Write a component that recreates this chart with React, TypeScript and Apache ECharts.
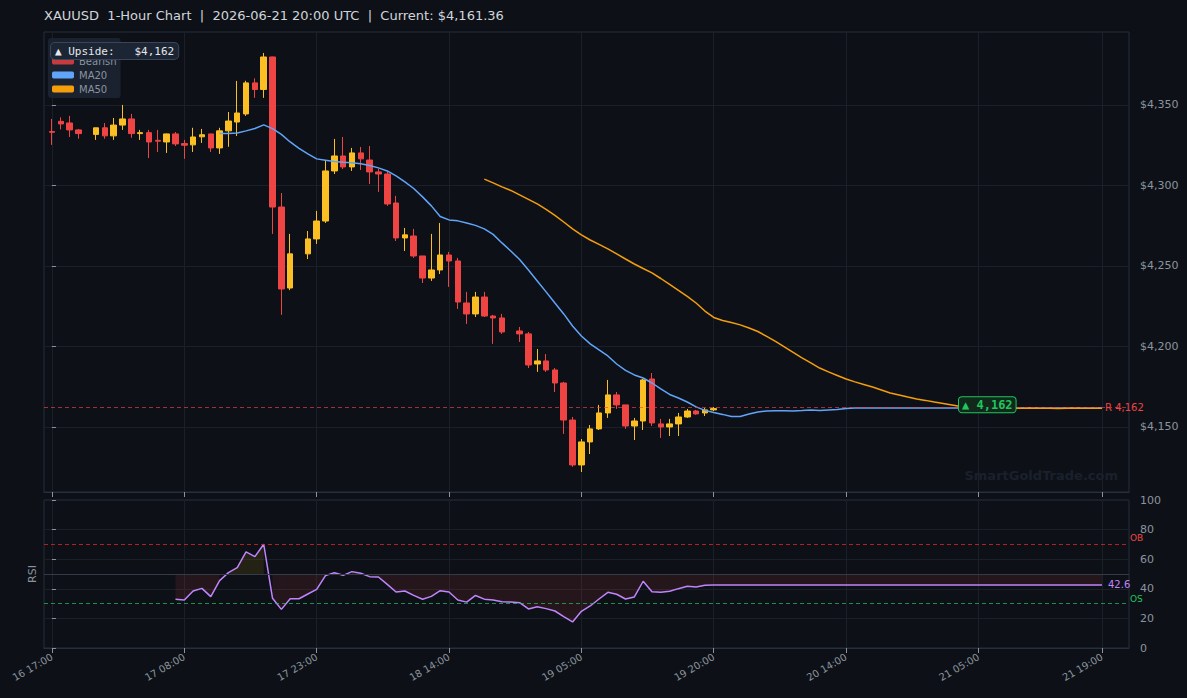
import { useEffect, useRef } from 'react';
import * as echarts from 'echarts';

const TITLE = 'XAUUSD  1-Hour Chart  |  2026-06-21 20:00 UTC  |  Current: $4,161.36';

const TICK_INDEX = [0, 15, 30, 45, 60, 75, 90, 105, 119];
const TICK_LABELS = ['16 17:00', '17 08:00', '17 23:00', '18 14:00', '19 05:00', '19 20:00', '20 14:00', '21 05:00', '21 19:00'];
const PRICE_TICKS = [4150, 4200, 4250, 4300, 4350];
const RSI_TICKS = [0, 20, 40, 60, 80, 100];

const X_MIN = -0.9;
const X_MAX = 122.06;
const Y_MIN = 4109.6;
const Y_MAX = 4395.3;

// candles, index 0..75 (null = no candle)
const OPEN = [4333.5, 4339.8, 4338.8, 4334.5, null, 4331.7, 4335.8, 4330.8, 4337.5, 4341.3, 4332.2, 4332.8, 4328.0, 4327.0, 4332.0, 4326.0, 4325.2, 4330.2, 4332.0, 4323.3,
  4333.9, 4339.4, 4344.4, 4363.7, 4359.6, 4379.8, 4286.6, 4236.3, null, 4257.5, 4266.8, 4277.9, 4309.0, 4318.3, 4311.5, 4320.2, 4315.8, 4308.4, 4307.1, 4289.1,
  4267.4, 4268.6, 4256.2, 4242.5, 4247.5, 4256.8, 4253.1, 4227.0, 4220.2, 4230.7, 4218.9, 4217.7, null, 4209.6, 4207.8, 4189.1, 4191.0, 4185.4, 4177.3, 4154.3,
  4126.4, 4140.7, 4148.8, 4158.7, 4169.9, 4163.7, 4150.6, 4153.7, 4179.8, 4151.9, 4150.0, 4151.9, 4156.2, 4159.9, 4158.7, 4160.6];
const CLOSE = [4333.0, 4338.2, 4334.5, 4332.2, null, 4335.8, 4330.8, 4337.5, 4341.3, 4332.2, 4332.8, 4327.0, 4327.5, 4332.0, 4325.8, 4325.0, 4330.1, 4331.5, 4323.3, 4333.9,
  4340.0, 4345.0, 4363.7, 4359.6, 4379.8, 4286.6, 4235.7, 4257.5, null, 4266.8, 4277.9, 4309.0, 4318.3, 4311.5, 4320.2, 4316.5, 4308.4, 4307.1, 4288.5, 4267.4,
  4269.3, 4256.2, 4242.5, 4247.5, 4256.8, 4253.1, 4227.6, 4220.2, 4230.7, 4218.9, 4217.7, 4209.0, null, 4207.8, 4188.5, 4191.0, 4185.4, 4177.3, 4154.3, 4126.4,
  4140.7, 4148.8, 4158.7, 4169.9, 4163.7, 4150.6, 4153.7, 4179.2, 4152.5, 4150.0, 4151.9, 4156.2, 4159.9, 4158.1, 4160.6, 4161.4];
const LOW = [4325.2, 4334.8, 4330.1, 4329.0, null, 4328.3, 4329.0, 4328.3, 4334.5, 4329.6, 4328.3, 4317.0, 4320.8, 4320.2, 4324.5, 4316.5, 4320.8, 4326.4, 4320.8, 4319.6,
  4324.0, 4330.7, 4343.2, 4354.4, 4354.4, 4269.9, 4219.6, 4235.0, null, 4254.3, 4263.7, 4276.7, 4307.1, 4310.2, 4309.0, 4309.6, 4300.9, 4296.0, 4287.3, 4265.5,
  4259.3, 4255.0, 4239.4, 4240.7, 4245.0, 4237.0, 4223.3, 4214.0, 4218.3, 4218.3, 4201.6, 4207.8, null, 4202.8, 4186.6, 4184.2, 4184.2, 4171.7, 4145.7, 4125.2,
  4122.0, 4133.2, 4148.1, 4155.6, 4161.2, 4148.8, 4141.9, 4148.1, 4150.6, 4143.2, 4144.4, 4144.4, 4155.6, 4157.5, 4156.8, 4159.9];
const HIGH = [4341.3, 4342.3, 4343.2, 4335.1, null, 4335.8, 4338.8, 4341.9, 4350.0, 4344.4, 4334.5, 4334.5, 4334.5, 4332.2, 4333.2, 4328.3, 4335.8, 4335.1, 4332.0, 4335.8,
  4345.6, 4364.9, 4365.0, 4366.5, 4382.3, 4380.0, 4295.3, 4269.9, null, 4271.7, 4284.2, 4315.2, 4328.9, 4330.1, 4323.3, 4323.9, 4324.5, 4310.2, 4309.0, 4293.5,
  4273.6, 4273.0, 4256.2, 4269.9, 4276.7, 4258.7, 4255.0, 4233.9, 4233.9, 4233.9, 4219.6, 4220.2, null, 4212.1, 4209.0, 4198.4, 4195.3, 4186.6, 4178.0, 4156.2,
  4142.5, 4151.2, 4163.7, 4179.2, 4171.7, 4163.7, 4155.6, 4179.8, 4183.5, 4155.0, 4155.0, 4158.7, 4161.2, 4160.6, 4161.8, 4162.4];

// MA20 from index 19 to 119
const MA20_START = 19;
const MA20 = [4332.2, 4332.3, 4332.6, 4333.9, 4335.4, 4337.6, 4335.3, 4331.7, 4327.0, 4323.0, 4319.6, 4316.5, 4315.7, 4314.9, 4314.4, 4314.1, 4313.5, 4312.4, 4310.9, 4309.0,
  4305.9, 4302.2, 4298.1, 4292.9, 4287.3, 4280.7, 4278.6, 4278.0, 4276.7, 4275.2, 4273.0, 4269.6, 4264.3, 4259.3, 4254.0, 4247.5, 4240.7, 4233.9, 4227.0, 4220.2,
  4212.7, 4206.5, 4201.6, 4197.8, 4194.1, 4189.1, 4185.1, 4182.3, 4180.4, 4177.3, 4173.6, 4170.2, 4168.0, 4165.5, 4162.5, 4160.3, 4159.0, 4157.8, 4156.5, 4156.5,
  4158.1, 4159.3, 4159.9, 4160.1, 4160.1, 4159.9, 4160.2, 4160.6, 4160.2, 4160.6, 4160.9, 4161.5, 4161.8, 4161.8, 4161.8, 4161.8, 4161.8, 4161.8, 4161.8, 4161.8,
  4161.8, 4161.8, 4161.8, 4161.8, 4161.8, 4161.8, 4161.8, 4161.8, 4161.8, 4161.8, 4161.8, 4161.8, 4161.8, 4161.8, 4161.8, 4161.8, 4161.8, 4161.8, 4161.8, 4161.8,
  4161.8];

// MA50 from index 49 to 119
const MA50_START = 49;
const MA50 = [4303.9, 4301.6, 4299.1, 4296.9, 4294.1, 4291.3, 4288.5, 4285.1, 4281.4, 4277.3, 4273.0, 4269.3, 4266.1, 4263.4, 4260.6, 4257.5, 4254.3, 4251.2, 4248.4, 4245.7,
  4242.2, 4238.5, 4234.8, 4231.1, 4227.0, 4222.0, 4218.0, 4216.1, 4214.9, 4213.4, 4211.5, 4209.3, 4206.2, 4203.1, 4199.7, 4196.3, 4192.9, 4189.8, 4186.6, 4184.2,
  4182.0, 4179.8, 4178.0, 4176.4, 4174.8, 4173.0, 4171.1, 4169.9, 4168.6, 4167.4, 4166.5, 4165.5, 4164.6, 4163.7, 4162.7, 4162.1, 4161.5, 4161.2, 4161.2, 4161.2,
  4161.6, 4161.6, 4161.7, 4161.6, 4161.6, 4161.5, 4161.6, 4161.7, 4161.6, 4161.6, 4161.6];

// RSI from index 14 to 119
const RSI_START = 14;
const RSI = [32.9, 32.4, 38.5, 40.3, 34.7, 45.5, 50.9, 54.3, 64.9, 61.7, 70.1, 33.6, 26.1, 33.3, 33.3, 36.5, 39.6, 48.9, 50.9, 49.1,
  51.6, 50.5, 48.2, 48.0, 43.0, 37.8, 38.5, 35.6, 32.9, 34.9, 38.7, 37.8, 32.4, 31.0, 35.5, 33.0, 32.4, 31.3, 31.1, 30.6,
  26.4, 27.9, 26.6, 25.0, 21.2, 17.6, 24.8, 28.4, 33.1, 37.6, 36.3, 33.1, 34.5, 45.1, 38.0, 37.6, 38.3, 40.1, 41.7, 41.2,
  42.4, 42.6, 42.6, 42.6, 42.6, 42.6, 42.6, 42.6, 42.6, 42.6, 42.6, 42.6, 42.6, 42.6, 42.6, 42.6, 42.6, 42.6, 42.6, 42.6,
  42.6, 42.6, 42.6, 42.6, 42.6, 42.6, 42.6, 42.6, 42.6, 42.6, 42.6, 42.6, 42.6, 42.6, 42.6, 42.6, 42.6, 42.6, 42.6, 42.6,
  42.6, 42.6, 42.6, 42.6, 42.6, 42.6];

const LEVEL = 4162;
const BADGE_INDEX = 106;
const LAST_INDEX = 119;

const BG = '#0d1117';
const GRID_LINE = '#1a2029';
const FRAME = '#252f3d';
const AXIS_TEXT = '#8b949e';
const BULL = '#fbbf24';
const BEAR = '#ef4444';
const MA20_COLOR = '#60a5fa';
const MA50_COLOR = '#f59e0b';
const RSI_COLOR = '#c084fc';

function tickLabel(v: number): string {
  const k = TICK_INDEX.indexOf(Math.round(v));
  return k >= 0 ? TICK_LABELS[k] : '';
}

export default function App() {
  const ref = useRef<HTMLDivElement>(null);

  useEffect(() => {
    if (!ref.current) return;
    const chart = echarts.init(ref.current, undefined, { renderer: 'svg' });

    const candles: number[][] = [];
    OPEN.forEach((o, i) => {
      if (o == null) return;
      candles.push([i, o as number, CLOSE[i] as number, LOW[i] as number, HIGH[i] as number]);
    });
    const ma20 = MA20.map((v, k) => [MA20_START + k, v]);
    const ma50 = MA50.map((v, k) => [MA50_START + k, v]);
    const rsi = RSI.map((v, k) => [RSI_START + k, v]);
    const rsiUp = RSI.map((v, k) => [RSI_START + k, v >= 50 ? v : null]);
    const rsiDown = RSI.map((v, k) => [RSI_START + k, v < 50 ? v : null]);
    const lastRsi = RSI[RSI.length - 1];

    const xAxisBase = {
      type: 'value',
      min: X_MIN,
      max: X_MAX,
      axisLine: { show: true, lineStyle: { color: FRAME } },
      axisTick: { show: true, customValues: TICK_INDEX, length: 5, lineStyle: { color: AXIS_TEXT } },
      splitLine: { show: true, lineStyle: { color: GRID_LINE, width: 1 } },
    };

    const option: any = {
      backgroundColor: BG,
      animation: false,
      textStyle: { fontFamily: 'DejaVu Sans' },
      title: {
        text: TITLE,
        left: 44,
        top: 9,
        padding: 0,
        textStyle: { color: '#d1d5db', fontSize: 13, fontWeight: 'normal', fontFamily: 'DejaVu Sans' },
      },
      legend: {
        data: ['Bullish', 'Bearish', 'MA20', 'MA50'],
        orient: 'vertical',
        left: 48,
        top: 38,
        icon: 'roundRect',
        itemWidth: 22,
        itemHeight: 7,
        itemGap: 4,
        backgroundColor: '#1a2230',
        borderRadius: 3,
        padding: [4, 4, 4, 4],
        textStyle: { color: AXIS_TEXT, fontSize: 10, fontFamily: 'DejaVu Sans' },
        selectedMode: false,
      },
      grid: [
        { left: 44, right: 58, top: 32, height: 460, show: true, borderColor: FRAME, borderWidth: 1, backgroundColor: 'transparent' },
        { left: 44, right: 58, top: 500, height: 148, show: true, borderColor: FRAME, borderWidth: 1, backgroundColor: 'transparent' },
      ],
      xAxis: [
        { ...xAxisBase, gridIndex: 0, axisLabel: { show: false, customValues: TICK_INDEX } },
        {
          ...xAxisBase,
          gridIndex: 1,
          axisLabel: {
            show: true,
            customValues: TICK_INDEX,
            formatter: tickLabel,
            rotate: 30,
            color: AXIS_TEXT,
            fontSize: 10,
            margin: 8,
          },
        },
      ],
      yAxis: [
        {
          type: 'value',
          gridIndex: 0,
          position: 'right',
          min: Y_MIN,
          max: Y_MAX,
          axisLine: { show: false },
          axisTick: { show: true, customValues: PRICE_TICKS, length: 4, lineStyle: { color: AXIS_TEXT } },
          axisLabel: {
            customValues: PRICE_TICKS,
            formatter: (v: number) => '$' + Math.round(v).toLocaleString('en-US'),
            color: AXIS_TEXT,
            fontSize: 11,
            margin: 11,
          },
          splitLine: { show: true, lineStyle: { color: GRID_LINE } },
        },
        {
          type: 'value',
          gridIndex: 1,
          position: 'right',
          min: 0,
          max: 100,
          axisLine: { show: false },
          axisTick: { show: true, customValues: RSI_TICKS, length: 4, lineStyle: { color: AXIS_TEXT } },
          axisLabel: { customValues: RSI_TICKS, color: AXIS_TEXT, fontSize: 11, margin: 11 },
          splitLine: { show: true, lineStyle: { color: GRID_LINE } },
        },
        {
          type: 'value',
          gridIndex: 1,
          position: 'left',
          min: 0,
          max: 100,
          name: 'RSI',
          nameLocation: 'middle',
          nameGap: 6,
          nameRotate: 90,
          nameTextStyle: { color: AXIS_TEXT, fontSize: 11 },
          axisLine: { show: false },
          axisTick: { show: false },
          axisLabel: { show: false },
          splitLine: { show: false },
        },
      ],
      graphic: [
        {
          type: 'text',
          right: 69,
          top: 469,
          z: 1,
          style: { text: 'SmartGoldTrade.com', fontSize: 13, fontWeight: 'bold', fontFamily: 'DejaVu Sans', fill: '#1a202c' },
        },
        {
          type: 'text',
          left: 50,
          top: 42,
          z: 100,
          style: {
            text: '▲ Upside:   $4,162',
            fontSize: 11,
            fontFamily: 'DejaVu Sans Mono',
            fill: '#e5e7eb',
            backgroundColor: '#1c2533',
            borderColor: '#3a4658',
            borderWidth: 1,
            borderRadius: 4,
            padding: [3, 4, 2, 4],
          },
        },
      ],
      series: [
        { name: 'Bullish', type: 'scatter', data: [], itemStyle: { color: BULL } },
        { name: 'Bearish', type: 'scatter', data: [], itemStyle: { color: BEAR } },
        {
          name: 'Price',
          type: 'candlestick',
          xAxisIndex: 0,
          yAxisIndex: 0,
          data: candles,
          barWidth: 6,
          itemStyle: { color: BULL, color0: BEAR, borderColor: BULL, borderColor0: BEAR, borderWidth: 1 },
          markLine: {
            silent: true,
            symbol: ['none', 'none'],
            label: { show: false },
            lineStyle: { color: 'rgba(239,68,68,0.65)', type: [4, 3], width: 1 },
            data: [{ yAxis: LEVEL }],
          },
          markPoint: {
            silent: true,
            symbol: 'circle',
            symbolSize: 0,
            data: [
              {
                coord: [LAST_INDEX, LEVEL],
                label: { show: true, position: 'right', distance: 3, formatter: 'R 4,162', color: BEAR, fontSize: 10 },
              },
              {
                coord: [BADGE_INDEX, LEVEL],
                label: {
                  show: true,
                  position: 'inside',
                  offset: [0, -3],
                  formatter: '▲ 4,162',
                  color: '#22c55e',
                  fontSize: 12,
                  fontWeight: 'bold',
                  fontFamily: 'DejaVu Sans Mono',
                  backgroundColor: '#10291b',
                  borderColor: '#22c55e',
                  borderWidth: 1,
                  borderRadius: 3,
                  padding: [2, 3, 1, 3],
                },
              },
            ],
          },
          z: 3,
        },
        {
          name: 'MA20',
          type: 'line',
          xAxisIndex: 0,
          yAxisIndex: 0,
          data: ma20,
          showSymbol: false,
          color: MA20_COLOR,
          lineStyle: { color: MA20_COLOR, width: 1.5 },
          z: 4,
        },
        {
          name: 'MA50',
          type: 'line',
          xAxisIndex: 0,
          yAxisIndex: 0,
          data: ma50,
          showSymbol: false,
          color: MA50_COLOR,
          lineStyle: { color: MA50_COLOR, width: 1.5 },
          z: 4,
        },
        {
          name: 'rsiUp',
          type: 'line',
          xAxisIndex: 1,
          yAxisIndex: 1,
          data: rsiUp,
          showSymbol: false,
          lineStyle: { width: 0, opacity: 0 },
          areaStyle: { color: 'rgba(234,179,8,0.15)', origin: 50 },
          connectNulls: false,
          silent: true,
        },
        {
          name: 'rsiDown',
          type: 'line',
          xAxisIndex: 1,
          yAxisIndex: 1,
          data: rsiDown,
          showSymbol: false,
          lineStyle: { width: 0, opacity: 0 },
          areaStyle: { color: 'rgba(239,68,68,0.15)', origin: 50 },
          connectNulls: false,
          silent: true,
        },
        {
          name: 'RSI',
          type: 'line',
          xAxisIndex: 1,
          yAxisIndex: 1,
          data: rsi,
          showSymbol: false,
          lineStyle: { color: RSI_COLOR, width: 1.5 },
          color: RSI_COLOR,
          z: 4,
          markLine: {
            silent: true,
            symbol: ['none', 'none'],
            label: { show: false },
            data: [
              { yAxis: 70, lineStyle: { color: 'rgba(220,38,38,0.8)', type: [4, 3], width: 1 } },
              { yAxis: 30, lineStyle: { color: 'rgba(34,197,94,0.7)', type: [4, 3], width: 1 } },
              { yAxis: 50, lineStyle: { color: '#343b47', type: 'solid', width: 1 } },
            ],
          },
          markPoint: {
            silent: true,
            symbol: 'circle',
            symbolSize: 0,
            data: [
              { coord: [LAST_INDEX, lastRsi], label: { show: true, position: 'right', distance: 6, formatter: String(lastRsi), color: RSI_COLOR, fontSize: 10 } },
              { coord: [X_MAX, 70], label: { show: true, position: 'right', distance: 1, offset: [0, -6], formatter: 'OB', color: '#ef4444', fontSize: 9 } },
              { coord: [X_MAX, 30], label: { show: true, position: 'right', distance: 1, offset: [0, -5], formatter: 'OS', color: '#22c55e', fontSize: 9 } },
            ],
          },
        },
      ],
    };

    chart.setOption(option);
    return () => chart.dispose();
  }, []);

  return <div ref={ref} style={{ position: 'fixed', left: 0, top: 0, width: 1187, height: 698 }} />;
}
